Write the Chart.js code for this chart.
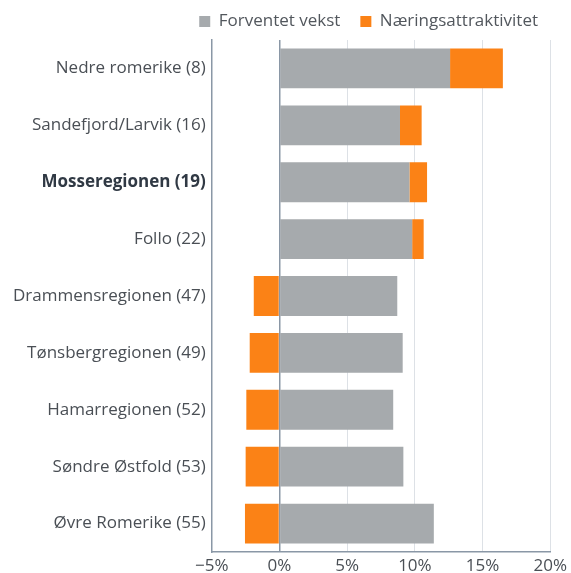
<!DOCTYPE html>
<html>
<head>
<meta charset="utf-8">
<script src="https://cdn.jsdelivr.net/npm/chart.js@4/dist/chart.umd.min.js"></script>
<style>
  html, body { margin: 0; padding: 0; background: #fff; }
  #wrap { width: 571px; height: 573px; }
</style>
</head>
<body>
<div id="wrap"><canvas id="myChartBar" width="571" height="573"></canvas></div>
<script>
// regioner (rangering i parentes)
let regioner = [
    "Nedre romerike (8)",
    "Sandefjord/Larvik (16)",
    "Mosseregionen (19)",
    "Follo (22)",
    "Drammensregionen (47)",
    "Tønsbergregionen (49)",
    "Hamarregionen (52)",
    "Søndre Østfold (53)",
    "Øvre Romerike (55)"
];
let forventetVekst = [12.6, 8.9, 9.6, 9.8, 8.7, 9.1, 8.4, 9.15, 11.4];
let naeringsattraktivitet = [3.9, 1.6, 1.3, 0.85, -1.9, -2.2, -2.45, -2.5, -2.55];
let xTicks = [-5, 0, 5, 10, 15, 20];
let uthevet = "Mosseregionen (19)";

let grey = "#a6aaad";
let orange = "#fb8216";

let canvas = document.getElementById('myChartBar');
let myChartBar = new Chart(canvas, {
    type: 'bar',
    data: {
        labels: regioner,
        datasets: [
            {
                label: "Forventet vekst",
                data: forventetVekst,
                backgroundColor: grey,
                borderWidth: 0
            },
            {
                label: "Næringsattraktivitet",
                data: naeringsattraktivitet,
                backgroundColor: orange,
                borderWidth: 0
            }
        ]
    },
    options: {
        indexAxis: 'y',
        responsive: false,
        animation: false,
        layout: {
            padding: {top: -7, right: 13, left: 7, bottom: 0}
        },
        datasets: {
            bar: {
                categoryPercentage: 1,
                barPercentage: 0.7
            }
        },
        plugins: {
            tooltip: {enabled: false},
            legend: {
                position: 'top',
                align: 'end',
                labels: {
                    boxWidth: 11,
                    boxHeight: 11,
                    padding: 20,
                    color: '#52575d',
                    font: {family: "'Open Sans'", size: 17}
                }
            }
        },
        scales: {
            x: {
                stacked: true,
                min: -5,
                max: 20,
                afterBuildTicks: function(axis){
                    axis.ticks = xTicks.map(v => ({value: v}));
                },
                afterFit: function(axis){
                    // labels sit low, partly cut by the bottom edge as in the original
                    axis.height = 21;
                },
                ticks: {
                    padding: 4,
                    color: '#4a4f55',
                    font: {family: "'Open Sans'", size: 17},
                    callback: function(v){
                        return v < 0 ? '\u2212' + Math.abs(v) + '%' : v + '%';
                    }
                },
                grid: {
                    drawTicks: false,
                    color: function(ctx){
                        return ctx.tick && ctx.tick.value === 0 ? '#8a97a6' : '#dde1e6';
                    },
                    lineWidth: function(ctx){
                        return ctx.tick && ctx.tick.value === 0 ? 1.5 : 1;
                    }
                },
                border: {color: '#8a97a6', width: 1.5}
            },
            y: {
                stacked: true,
                ticks: {
                    padding: 6,
                    color: function(ctx){
                        return regioner[ctx.index] === uthevet ? '#303944' : '#4a4f55';
                    },
                    font: function(ctx){
                        return {
                            family: "'Open Sans'",
                            size: 17,
                            weight: regioner[ctx.index] === uthevet ? 'bold' : 'normal'
                        };
                    }
                },
                grid: {display: false, drawTicks: false},
                border: {color: '#8a97a6', width: 1.5}
            }
        }
    }
});
</script>
</body>
</html>
